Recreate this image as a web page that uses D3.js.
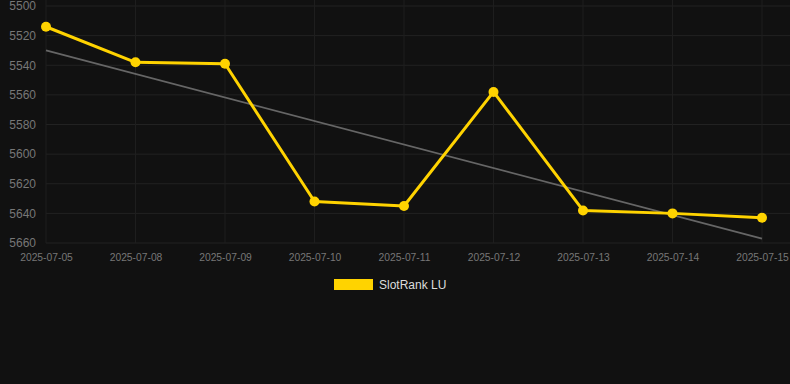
<!DOCTYPE html>
<html>
<head>
<meta charset="utf-8">
<script src="https://cdn.jsdelivr.net/npm/d3@7"></script>
<style>
    html, body { margin: 0; padding: 0; background: #111111; }
    svg { display: block; font-family: "Liberation Sans", Arial, sans-serif; }
</style>
</head>
<body>
<div id="chart"><svg width="790" height="384"></svg></div>
<script>
var dates = ["2025-07-05", "2025-07-08", "2025-07-09", "2025-07-10", "2025-07-11",
    "2025-07-12", "2025-07-13", "2025-07-14", "2025-07-15"];
var rank = [5514, 5538, 5539, 5632, 5635, 5558, 5638, 5640, 5643];
// trend line read at first and last date
var trendDates = ["2025-07-05", "2025-07-15"];
var trendValues = [5530, 5657];
var yTicks = [5500, 5520, 5540, 5560, 5580, 5600, 5620, 5640, 5660];
var seriesName = "SlotRank LU";

var svg = d3.select("#chart svg"),
    width = +svg.attr("width"),
    height = +svg.attr("height"),
    margin = { top: 6, right: 28, bottom: 141, left: 46 };

var x = d3.scalePoint()
    .domain(dates)
    .range([margin.left, width - margin.right]);

var y = d3.scaleLinear()
    .domain([5500, 5660])
    .range([margin.top, height - margin.bottom]);

// grid
svg.append("g")
    .selectAll("line.h")
    .data(yTicks)
    .enter().append("line")
    .attr("x1", margin.left)
    .attr("x2", width)
    .attr("y1", function (d) { return y(d); })
    .attr("y2", function (d) { return y(d); })
    .attr("stroke", "#222")
    .attr("stroke-width", 1);

svg.append("g")
    .selectAll("line.v")
    .data(dates)
    .enter().append("line")
    .attr("x1", function (d) { return x(d); })
    .attr("x2", function (d) { return x(d); })
    .attr("y1", 0)
    .attr("y2", y(5660))
    .attr("stroke", "#1e1e1e")
    .attr("stroke-width", 1);

// y axis
var yAxis = svg.append("g")
    .attr("transform", "translate(" + (margin.left - 10) + ",0)")
    .call(d3.axisLeft(y).tickValues(yTicks).tickSize(0).tickPadding(0).tickFormat(d3.format("d")));
yAxis.select(".domain").remove();
yAxis.selectAll("text")
    .attr("fill", "#777")
    .attr("font-size", "12px");

// x axis
var xAxis = svg.append("g")
    .attr("transform", "translate(0," + (y(5660) + 11) + ")")
    .call(d3.axisBottom(x).tickSize(0).tickPadding(0));
xAxis.select(".domain").remove();
xAxis.selectAll("text")
    .attr("fill", "#777")
    .attr("font-size", "10.3px");

// trend
svg.append("path")
    .datum(trendDates.map(function (d, i) { return [d, trendValues[i]]; }))
    .attr("fill", "none")
    .attr("stroke", "#666")
    .attr("stroke-width", 1.8)
    .attr("d", d3.line()
        .x(function (d) { return x(d[0]); })
        .y(function (d) { return y(d[1]); }));

// series
svg.append("path")
    .datum(rank)
    .attr("fill", "none")
    .attr("stroke", "#FFD300")
    .attr("stroke-width", 3)
    .attr("stroke-linejoin", "round")
    .attr("d", d3.line()
        .x(function (d, i) { return x(dates[i]); })
        .y(function (d) { return y(d); }));

svg.append("g")
    .attr("fill", "#FFD300")
    .selectAll("circle")
    .data(rank)
    .enter().append("circle")
    .attr("cx", function (d, i) { return x(dates[i]); })
    .attr("cy", function (d) { return y(d); })
    .attr("r", 5);

// legend
var legend = svg.append("g")
    .attr("transform", "translate(334,279)");
legend.append("rect")
    .attr("width", 39)
    .attr("height", 11)
    .attr("fill", "#FFD300");
legend.append("text")
    .attr("x", 45)
    .attr("y", 10)
    .attr("fill", "#ddd")
    .attr("font-size", "12px")
    .text(seriesName);
</script>
</body>
</html>
